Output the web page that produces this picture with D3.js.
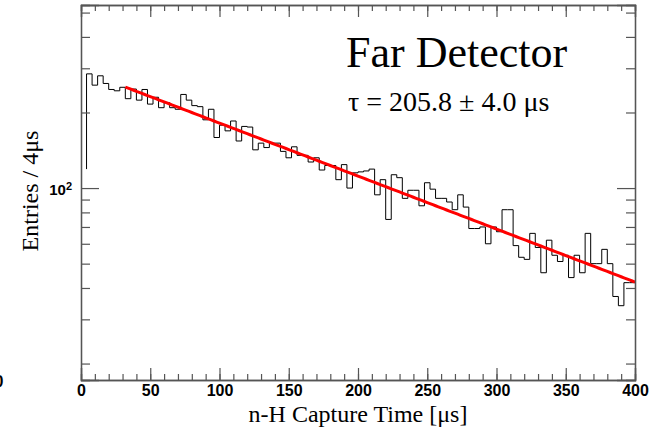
<!DOCTYPE html>
<html>
<head>
<meta charset="utf-8">
<script src="https://cdn.jsdelivr.net/npm/d3@7"></script>
<style>
  html, body { margin: 0; padding: 0; background: #fff; }
  svg { display: block; }
</style>
</head>
<body>
<svg id="chart" width="652" height="427"></svg>
<script>
// n-H capture time spectrum: 4 µs bins from 4 µs up to 400 µs
const binWidth = 4;
const firstEdge = 4;
const openingLevel = 119;   // outline rises from this level on the first edge
const counts = [
  285, 257, 280, 261, 247, 244, 252, 227, 248, 224,
  247, 216, 230, 209, 219, 209, 206, 236, 224, 213,
  211, 187, 206, 159, 178, 169, 185, 154, 176, 175,
  142, 151, 145, 151, 151, 140, 132, 146, 135, 135,
  127, 132, 118, 123, 123, 108, 124, 100, 115, 116,
  117, 119,  94, 108,  75, 113, 110,  91,  98,  98,
   85, 105,  99,  91,  91,  88,  82,  94,  84,  69,
   69,  70,  60,  70,  67,  82,  82,  59,  53,  52,
   66,  58,  46,  62,  54,  51,  54,  44,  54,  46,
   66,  50,  50,  57,  50,  37,  34,  42,  42
];

// exponential fit  N(t) = norm * exp(-t / tau)
const tau = 205.8;
const tauErr = 4.0;
const fitNorm = 295;
const fitRange = [32, 400];

// axis ticks
const xMajorTicks = [0, 50, 100, 150, 200, 250, 300, 350, 400];
const xMinorTicks = d3.range(0, 401, 10);
const yMajorTicks = [100];
const yMinorTicks = [20, 30, 40, 50, 60, 70, 80, 90, 200, 300, 400, 500];
const xDomain = [0, 400];
const yDomain = [17.2, 536];

const titleText = "Far Detector";
const xTitle = "n-H Capture Time [μs]";
const yTitle = "Entries / 4μs";

const W = 652, H = 427;
const margin = { top: 5, right: 17, bottom: 47, left: 81 };
const svg = d3.select("#chart");

const x = d3.scaleLinear().domain(xDomain).range([margin.left, W - margin.right]);
const y = d3.scaleLog().domain(yDomain).range([H - margin.bottom, margin.top]);

const axisColor = "#555";
const sansBold = "'Liberation Sans', Arial, Helvetica, sans-serif";
const serif = "'Liberation Serif', 'Times New Roman', Times, serif";

// histogram outline
const pts = [[firstEdge, openingLevel]];
counts.forEach((c, i) => {
  const lo = firstEdge + i * binWidth;
  pts.push([lo, c], [lo + binWidth, c]);
});
const histLine = d3.line().x(d => x(d[0])).y(d => y(d[1]));
svg.append("path")
  .attr("d", histLine(pts))
  .attr("fill", "none")
  .attr("stroke", "#000")
  .attr("stroke-width", 1);

// fit curve
const fitPts = d3.range(fitRange[0], fitRange[1] + 0.001, 2).map(t => [t, fitNorm * Math.exp(-t / tau)]);
svg.append("path")
  .attr("d", histLine(fitPts))
  .attr("fill", "none")
  .attr("stroke", "#ff0000")
  .attr("stroke-width", 3);

// axes (ticks drawn inward on all four sides)
function styleAxis(g) {
  g.selectAll(".domain").attr("stroke", axisColor).attr("stroke-width", 1.3);
  g.selectAll(".tick line").attr("stroke", axisColor).attr("stroke-width", 1.2);
}
const bottomY = H - margin.bottom;
const rightX = W - margin.right;

// bottom
svg.append("g").attr("transform", `translate(0,${bottomY})`)
  .call(d3.axisBottom(x).tickValues(xMinorTicks).tickSize(-6).tickFormat(""))
  .call(styleAxis);
const gx = svg.append("g").attr("transform", `translate(0,${bottomY})`)
  .call(d3.axisBottom(x).tickValues(xMajorTicks).tickSize(-12).tickPadding(5).tickFormat(d3.format("d")))
  .call(styleAxis);
gx.selectAll("text")
  .attr("font-family", sansBold).attr("font-weight", "bold").attr("font-size", 16).attr("fill", "#000");

// top
svg.append("g").attr("transform", `translate(0,${margin.top})`)
  .call(d3.axisTop(x).tickValues(xMinorTicks).tickSize(-6).tickFormat(""))
  .call(styleAxis);
svg.append("g").attr("transform", `translate(0,${margin.top})`)
  .call(d3.axisTop(x).tickValues(xMajorTicks).tickSize(-12).tickFormat(""))
  .call(styleAxis);

// left
svg.append("g").attr("transform", `translate(${margin.left},0)`)
  .call(d3.axisLeft(y).tickValues(yMinorTicks).tickSize(-9).tickFormat(""))
  .call(styleAxis);
svg.append("g").attr("transform", `translate(${margin.left},0)`)
  .call(d3.axisLeft(y).tickValues(yMajorTicks).tickSize(-18).tickFormat(""))
  .call(styleAxis);

// right
svg.append("g").attr("transform", `translate(${rightX},0)`)
  .call(d3.axisRight(y).tickValues(yMinorTicks).tickSize(-9).tickFormat(""))
  .call(styleAxis);
svg.append("g").attr("transform", `translate(${rightX},0)`)
  .call(d3.axisRight(y).tickValues(yMajorTicks).tickSize(-18).tickFormat(""))
  .call(styleAxis);

// y tick label written as a power of ten
yMajorTicks.forEach(v => {
  const exp = Math.round(Math.log10(v));
  const t = svg.append("text")
    .attr("x", margin.left - 9)
    .attr("y", y(v) + 7)
    .attr("text-anchor", "end")
    .attr("font-family", sansBold).attr("font-weight", "bold").attr("font-size", 15)
    .attr("fill", "#000");
  t.append("tspan").text("10");
  t.append("tspan").attr("dy", -5).attr("font-size", 11).text(exp);
});

// stray "0" clipped at the left edge
svg.append("text")
  .attr("x", -5.5).attr("y", bottomY + 6.5)
  .attr("font-family", sansBold).attr("font-weight", "bold").attr("font-size", 16)
  .text("0");

// axis titles
svg.append("text")
  .attr("x", (margin.left + rightX) / 2).attr("y", 421.5)
  .attr("text-anchor", "middle")
  .attr("font-family", serif).attr("font-size", 24)
  .text(xTitle);
svg.append("text")
  .attr("transform", `translate(38,191) rotate(-90)`)
  .attr("text-anchor", "middle")
  .attr("font-family", serif).attr("font-size", 24)
  .text(yTitle);

// detector label and fitted lifetime
svg.append("text")
  .attr("x", 346).attr("y", 66.5)
  .attr("font-family", serif).attr("font-size", 44)
  .text(titleText);
svg.append("text")
  .attr("x", 348).attr("y", 110.5)
  .attr("font-family", serif).attr("font-size", 28)
  .text(`τ = ${tau.toFixed(1)} ± ${tauErr.toFixed(1)} μs`);
</script>
</body>
</html>
